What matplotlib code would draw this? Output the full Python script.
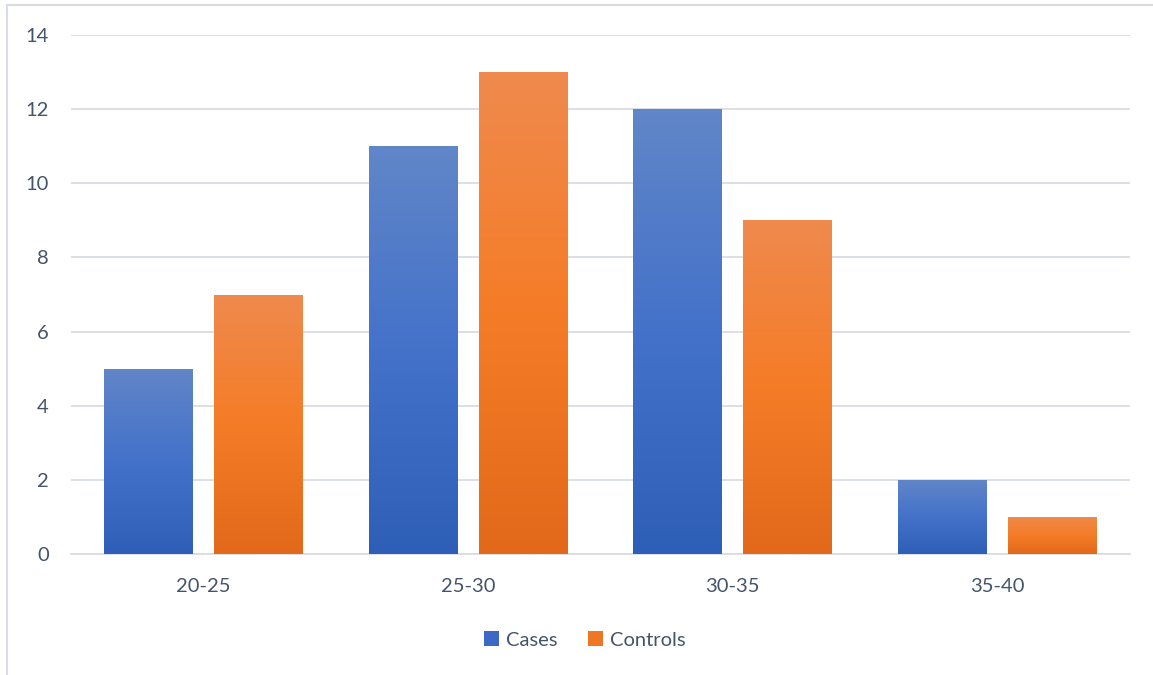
import numpy as np
import matplotlib
matplotlib.use("Agg")
import matplotlib.pyplot as plt
from matplotlib.colors import LinearSegmentedColormap
from matplotlib.patches import Patch
from matplotlib.lines import Line2D

# data
categories = ["20-25", "25-30", "30-35", "35-40"]
cases = [5, 11, 12, 2]
controls = [7, 13, 9, 1]

plt.rcParams["font.family"] = ["Lato", "DejaVu Sans"]
text_col = "#44546A"
grid_col = "#D9DDE3"

# top -> middle -> bottom colours of the bar gradients
blue_cmap = LinearSegmentedColormap.from_list("b", ["#2E5FB7", "#4472CA", "#6186C8"])
orange_cmap = LinearSegmentedColormap.from_list("o", ["#E2691A", "#F57C27", "#EF8A4D"])

fig = plt.figure(figsize=(11.53, 6.75), dpi=100)
ax = fig.add_axes([71 / 1153, 1 - 554 / 675, (1130 - 71) / 1153, (554 - 35) / 675])

x = np.arange(len(categories))
width = 0.336
offset = 0.208

grad = np.linspace(0, 1, 256).reshape(-1, 1)


def gradient_bars(xpos, vals, cmap):
    bars = ax.bar(xpos, vals, width, color="none", edgecolor="none", zorder=3)
    for b in bars:
        x0, y0 = b.get_x(), b.get_y()
        w, h = b.get_width(), b.get_height()
        im = ax.imshow(grad, cmap=cmap, aspect="auto", origin="lower",
                       extent=[x0, x0 + w, y0, y0 + h], zorder=3)
        im.set_clip_path(b)
    return bars


gradient_bars(x - offset, cases, blue_cmap)
gradient_bars(x + offset, controls, orange_cmap)

ax.set_xlim(-0.5, len(categories) - 0.5)
ax.set_ylim(0, 14)
ax.set_yticks(range(0, 15, 2))
ax.set_xticks(x)
ax.set_xticklabels(categories)
ax.yaxis.grid(True, color=grid_col, linewidth=1.3, zorder=0)
ax.set_axisbelow(True)
for s in ["top", "right", "left"]:
    ax.spines[s].set_visible(False)
ax.spines["bottom"].set_color(grid_col)
ax.spines["bottom"].set_linewidth(1.3)
ax.tick_params(axis="both", length=0, labelsize=14.5, colors=text_col)
ax.tick_params(axis="x", pad=17)
ax.tick_params(axis="y", pad=16)

handles = [Patch(facecolor="#3D69C4", label="Cases"),
           Patch(facecolor="#EE7624", label="Controls")]
leg = fig.legend(handles=handles, loc="center", bbox_to_anchor=(585 / 1153, 1 - 640 / 675),
                 ncol=2, frameon=False, fontsize=14.5, handlelength=0.75, handleheight=0.75,
                 handletextpad=0.35, columnspacing=1.5)
for t in leg.get_texts():
    t.set_color(text_col)

# chart area border (only top and left edges visible in the crop)
fig.add_artist(Line2D([7 / 1153, 7 / 1153], [0, 1 - 5 / 675], transform=fig.transFigure,
                      color=grid_col, linewidth=1.5))
fig.add_artist(Line2D([7 / 1153, 1], [1 - 5 / 675, 1 - 5 / 675], transform=fig.transFigure,
                      color=grid_col, linewidth=1.5))

fig.savefig("out.png", dpi=100)
